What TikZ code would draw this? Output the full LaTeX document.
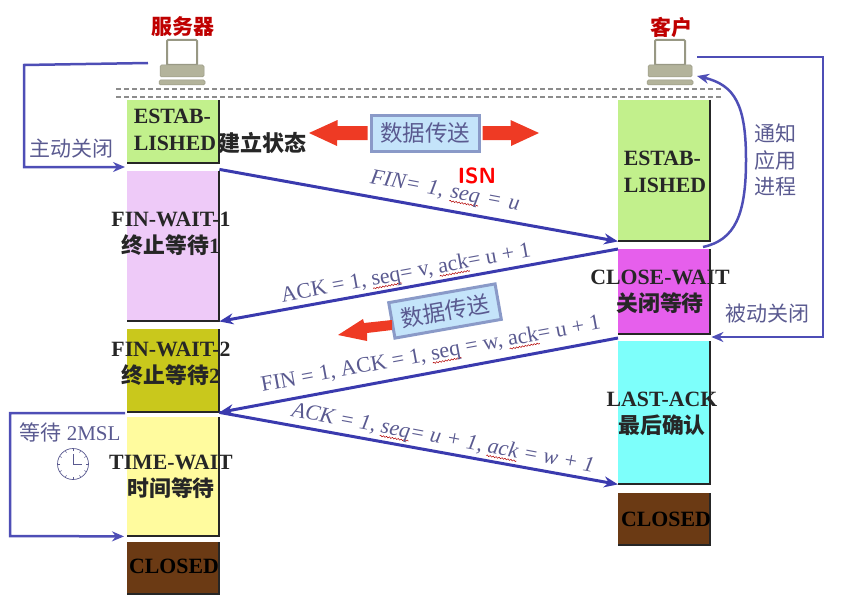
\documentclass[tikz,border=0pt]{standalone}
\usepackage{fontspec}
\setmainfont{Liberation Serif}
\newfontfamily\cjk{Noto Sans CJK SC}
\usetikzlibrary{arrows.meta,calc,decorations.pathmorphing}
\definecolor{linkblue}{HTML}{3A3AAE}
\definecolor{notegray}{HTML}{5A5A90}
\definecolor{estgreen}{HTML}{C2F08C}
\definecolor{finpink}{HTML}{EECAF8}
\definecolor{finolive}{HTML}{C9C81C}
\definecolor{timeyellow}{HTML}{FFFB9E}
\definecolor{closedbrown}{HTML}{6B3A14}
\definecolor{waitmagenta}{HTML}{E65FEC}
\definecolor{lastcyan}{HTML}{7DFFFB}
\definecolor{sendblue}{HTML}{C4E4FA}
\definecolor{sendedge}{HTML}{8A9AC8}
\definecolor{arrowred}{HTML}{EE3A24}
\definecolor{laptopgray}{HTML}{B3B39B}
\newsavebox{\squigbox}
\newcommand{\squig}[1]{\sbox{\squigbox}{#1}\rlap{\tikz[baseline=0pt]{\useasboundingbox (0pt,0pt) rectangle (0pt,0pt); \draw[draw=red!70!black, line width=0.5pt, decorate, decoration={snake, amplitude=0.7pt, segment length=3pt}] (0pt,-3pt) -- (\wd\squigbox,-3pt);}}#1}
\tikzset{
  state/.style    = {anchor=north west, inner sep=0pt, minimum width=92pt},
  statetxt/.style = {align=center, font=\fontsize{21.8}{27}\selectfont\bfseries, text=black!85},
  hostname/.style = {font=\fontsize{21}{24}\selectfont\bfseries\cjk, text=red!75!black},
  note/.style     = {align=center, font=\fontsize{21}{26.5}\selectfont\cjk, text=notegray},
  seglbl/.style   = {font=\fontsize{22}{24}\selectfont, text=notegray, inner sep=0pt},
  ar/.style       = {-{Stealth[length=14pt,width=11pt]}, draw=linkblue, line width=3pt},
  loop/.style     = {-{Stealth[length=12pt,width=10pt]}, draw=linkblue!90!white, line width=2.5pt},
  sendbox/.style  = {draw=sendedge, line width=3pt, fill=sendblue, text=notegray, minimum width=108pt,
                     minimum height=36pt, inner sep=0pt, font=\fontsize{22.5}{24}\selectfont\cjk},
  edge/.style     = {draw=black!85, line width=2pt},
  dashln/.style   = {draw=black!45, dash pattern=on 5pt off 3pt, line width=1.3pt},
  lappart/.style  = {draw=laptopgray!85!black, fill=laptopgray, rounded corners=1.5pt, line width=0.5pt},
  laptop/.pic     = {
    \draw[draw=laptopgray!85!black, fill=white, line width=2pt, rounded corners=1pt] (-15,-20) rectangle (15,5);
    \draw[lappart] (-22,5) rectangle (22,17);
    \draw[lappart] (-23,20) rectangle (23,25);
  },
}
\begin{document}
\begin{tikzpicture}[x=1pt,y=-1pt]
  \useasboundingbox (0,0) rectangle (842,607);
  \draw[dashln] (116,89) -- (723,89);
  \draw[dashln] (116,97) -- (723,97);

  % hosts
  \node[hostname] (server) at (183,27) {服务器};
  \node[hostname] (client) at (671,27) {客户};
  \pic at (182,60) {laptop};
  \pic at (670,60) {laptop};

  % server side states
  \node[state, fill=estgreen, minimum height=63pt] (est1) at (127,100) {};
  \node[state, fill=finpink, minimum height=150pt] (fw1) at (127,171) {};
  \node[state, fill=finolive, minimum height=83pt] (fw2) at (127,329) {};
  \node[state, fill=timeyellow, minimum height=119pt] (tw) at (127,417) {};
  \node[state, fill=closedbrown, minimum height=52pt] (cl1) at (127,542) {};

  % client side states
  \node[state, fill=estgreen, minimum height=141pt] (est2) at (618,100) {};
  \node[state, fill=waitmagenta, minimum height=85pt] (cw) at (618,249) {};
  \node[state, fill=lastcyan, minimum height=143pt] (la) at (618,341) {};
  \node[state, fill=closedbrown, minimum height=52pt] (cl2) at (618,493) {};

  \foreach \b in {est1,fw1,fw2,tw,cl1,est2,cw,la,cl2}
    \draw[edge] (\b.north east) -- (\b.south east) -- (\b.south west);

  \node[statetxt, align=left] (est1txt) at (175,130) {ESTAB-\\LISHED};
  \node[statetxt, font=\fontsize{22}{26}\selectfont\bfseries\cjk, anchor=west, inner sep=0pt] (est1zh) at (218,143) {建立状态};
  \node[statetxt] (fw1txt) at (171,234) {FIN-WAIT-1\\{\cjk 终止等待}1};
  \node[statetxt] (fw2txt) at (171,364) {FIN-WAIT-2\\{\cjk 终止等待}2};
  \node[statetxt] (twtxt) at (171,477) {TIME-WAIT\\{\cjk 时间等待}};
  \node[statetxt, text=black] (cl1txt) at (174,566) {CLOSED};
  \node[statetxt, align=left] (est2txt) at (665,172) {ESTAB-\\LISHED};
  \node[statetxt] (cwtxt) at (660,292) {CLOSE-WAIT\\{\cjk 关闭等待}};
  \node[statetxt] (latxt) at (662,414) {LAST-ACK\\{\cjk 最后确认}};
  \node[statetxt, text=black] (cl2txt) at (666,519) {CLOSED};

  % segments
  \draw[ar] (est1.south east) ++(0,6) coordinate (finstart) -- (est2.south west);
  \draw[ar] (cw.north west) -- (fw1.south east);
  \draw[ar] (la.north west) ++(0,-3) coordinate (fin2start) -- (fw2.south east);
  \draw[ar] (fw2.south east) -- (la.south west);
  \node[seglbl, rotate=-10.5] (finlbl) at (445,192) {\itshape FIN=\,\,1,\,\,\squig{seq}\,\,=\,\,u};
  \node[seglbl, rotate=10.5] (acklbl) at (406,274) {ACK = 1, \squig{seq}= v, \squig{ack}= u + 1};
  \node[seglbl, rotate=10.5] (fin2lbl) at (431,355) {FIN = 1, ACK = 1, \squig{seq} = w, \squig{ack}= u + 1};
  \node[seglbl, rotate=-10.5] (ack2lbl) at (443,439) {\itshape ACK = 1, \squig{seq}= u + 1, \squig{ack} = w + 1};
  \node[font=\fontsize{22}{24}\selectfont\bfseries\sffamily, text=red] (isn) at (477,176) {ISN};

  % data transfer
  \node[sendbox] (send1) at (425,133) {数据传送};
  \node[sendbox, rotate=10] (send2) at (445,311) {数据传送};
  \fill[arrowred] ($(send1.west)+(-2,-7)$) -- ++(-30,0) -- ++(0,-6) -- (309,133) -- (337,146) -- (337,140) -- ($(send1.west)+(-2,7)$) -- cycle;
  \fill[arrowred] ($(send1.east)+(2,-7)$) -- ++(28,0) -- ++(0,-6) -- (539,133) -- (511,146) -- (511,140) -- ($(send1.east)+(2,7)$) -- cycle;
  \fill[arrowred] (392,320) -- (364,323) -- (363,319) -- (338,335) -- (367,341) -- (367,333) -- (392,330) -- cycle;

  % side loops
  \coordinate (srvout) at (148,63);
  \coordinate (srvcorner) at (24,65);
  \coordinate (srvin) at ($(fw1.north west)+(-2,-4)$);
  \coordinate (cliout) at (697,57);
  \coordinate (clicorner) at (823,57);
  \coordinate (cliback) at ($(la.north east)+(1,-4)$);
  \coordinate (cliin) at (697,76);
  \draw[loop] (srvout) -- (srvcorner) -- (srvcorner |- srvin) -- (srvin);
  \draw[loop] (cliout) -- (clicorner) -- (clicorner |- cliback) -- (cliback);
  \draw[loop] (703,247) .. controls (735,240) and (746,215) .. (746,160) .. controls (746,105) and (735,85) .. (cliin);
  \draw[loop] (125,413) -- (10,413) -- (10,536) -- ($(tw.south west)+(-3,0)$);
  \node[note] (closeA) at (71,149) {主动关闭};
  \node[note] (closeB) at (767,314) {被动关闭};
  \node[note] (notify) at (775,160) {通知\\应用\\进程};
  \node[note, font=\fontsize{21}{24}\selectfont] (wait) at (70,432) {{\cjk 等待} 2MSL};

  % clock
  \node[draw=notegray, circle, minimum size=31pt, inner sep=0pt, line width=0.7pt] (clock) at (73,464) {};
  \draw[draw=notegray, line width=1pt] (clock.center) ++(0,-10) -- (clock.center) -- ++(9,0);
  \foreach \a in {0,30,...,330}
    \draw[draw=notegray, line width=0.5pt] (clock.center) ++(\a:13) -- ++(\a:2.5);
\end{tikzpicture}
\end{document}
